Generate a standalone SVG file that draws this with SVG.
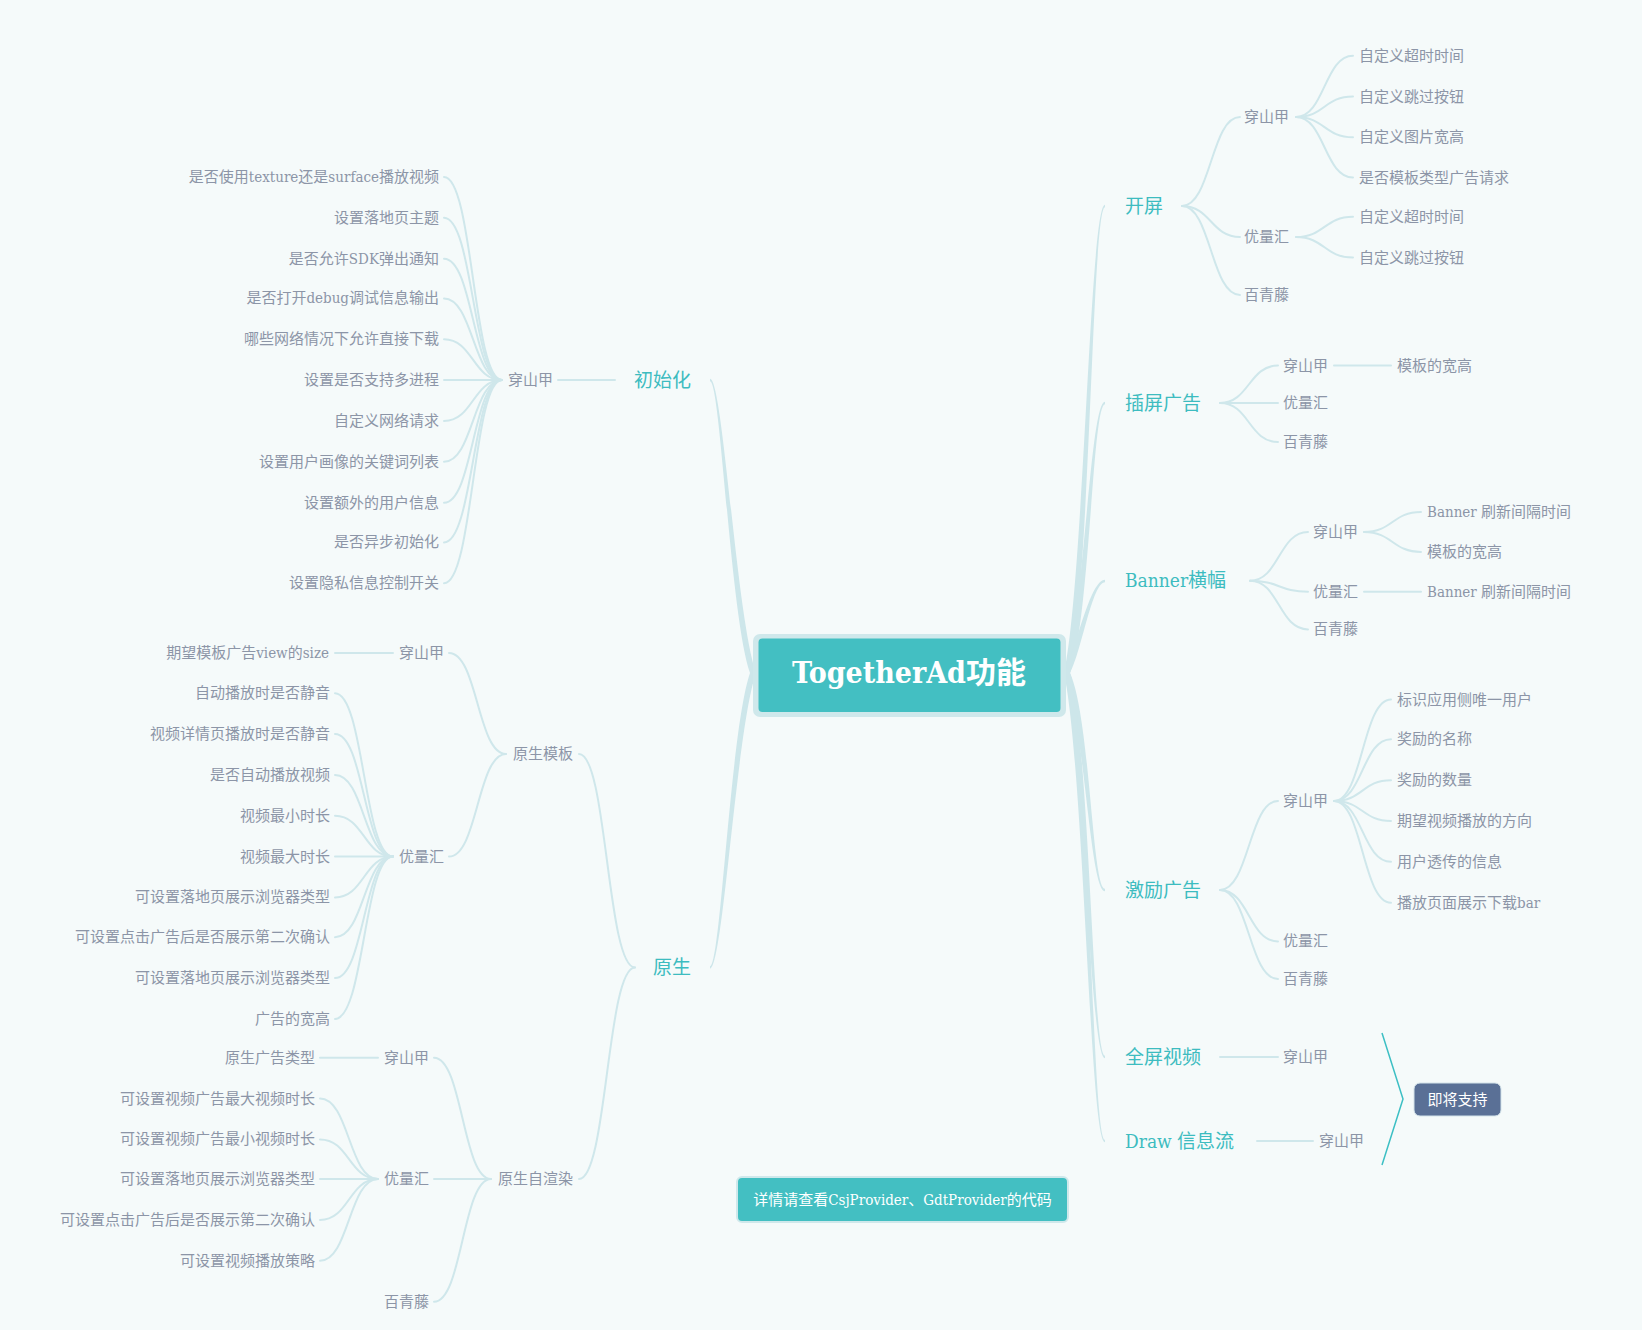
<svg xmlns="http://www.w3.org/2000/svg" width="1642" height="1330" viewBox="0 0 1642 1330">
<style>
text{font-family:"DejaVu Serif Condensed","DejaVu Serif","Noto Sans CJK SC",serif}
.m{font-size:19px;fill:#3dbcc0}
.s{font-size:15px;fill:#8c95a7}
.e{text-anchor:end}
.br{fill:#cde6ea}
.c{fill:none;stroke:#cfe7eb;stroke-width:2;stroke-linecap:round}
</style>
<rect width="1642" height="1330" fill="#f5fafa"/>
<g id="connectors">
<path class="br" d="M1064,673 C1084,579.6 1089.8,204.8 1105,204.8 L1105,207.2 C1092.2,207.2 1090,579.6 1070,673 Z"/>
<path class="br" d="M1064,673 C1084,619 1089.8,401.8 1105,401.8 L1105,404.2 C1092.2,404.2 1090,619 1070,673 Z"/>
<path class="br" d="M1064,673 C1076,650 1089.8,579.8 1105,579.8 L1105,582.2 C1092.2,582.2 1082,650 1070,673 Z"/>
<path class="br" d="M1070,673 C1090,716.4 1092.2,888.8 1105,888.8 L1105,891.2 C1089.8,891.2 1084,716.4 1064,673 Z"/>
<path class="br" d="M1070,673 C1090,749.8 1092.2,1055.8 1105,1055.8 L1105,1058.2 C1089.8,1058.2 1084,749.8 1064,673 Z"/>
<path class="br" d="M1070,673 C1090,766.6 1092.2,1139.8 1105,1139.8 L1105,1142.2 C1089.8,1142.2 1084,766.6 1064,673 Z"/>
<path class="br" d="M750,673 C730,614.4 720.8,381.2 710,381.2 L710,378.8 C723.2,378.8 736,614.4 756,673 Z"/>
<path class="br" d="M756,673 C736,731.9 723.2,968.7 710,968.7 L710,966.3 C720.8,966.3 730,731.9 750,673 Z"/>
<!-- 开屏 -->
<path class="c" d="M1182,206 C1211,206 1211,117 1240,117"/>
<path class="c" d="M1182,206 C1211,206 1211,237 1240,237"/>
<path class="c" d="M1182,206 C1211,206 1211,295 1240,295"/>
<path class="c" d="M1296,117 C1324.5,117 1324.5,55.7 1353,55.7"/>
<path class="c" d="M1296,117 C1324.5,117 1324.5,96.5 1353,96.5"/>
<path class="c" d="M1296,117 C1324.5,117 1324.5,137.3 1353,137.3"/>
<path class="c" d="M1296,117 C1324.5,117 1324.5,177.6 1353,177.6"/>
<path class="c" d="M1296,237 C1324.5,237 1324.5,216.8 1353,216.8"/>
<path class="c" d="M1296,237 C1324.5,237 1324.5,257.6 1353,257.6"/>
<!-- 插屏广告 -->
<path class="c" d="M1220,403 C1249,403 1249,365.5 1278,365.5"/>
<path class="c" d="M1220,403 L1278,403"/>
<path class="c" d="M1220,403 C1249,403 1249,442 1278,442"/>
<path class="c" d="M1334,365.5 L1391,365.5"/>
<!-- Banner -->
<path class="c" d="M1250,580.7 C1279,580.7 1279,532 1308,532"/>
<path class="c" d="M1250,580.7 C1279,580.7 1279,591.7 1308,591.7"/>
<path class="c" d="M1250,580.7 C1279,580.7 1279,629.4 1308,629.4"/>
<path class="c" d="M1364,532 C1392.5,532 1392.5,512 1421,512"/>
<path class="c" d="M1364,532 C1392.5,532 1392.5,551.9 1421,551.9"/>
<path class="c" d="M1364,591.7 L1421,591.7"/>
<!-- 激励广告 -->
<path class="c" d="M1220,890 C1249,890 1249,801 1278,801"/>
<path class="c" d="M1220,890 C1249,890 1249,941.4 1278,941.4"/>
<path class="c" d="M1220,890 C1249,890 1249,979 1278,979"/>
<path class="c" d="M1334,801 C1362.5,801 1362.5,699.5 1391,699.5"/>
<path class="c" d="M1334,801 C1362.5,801 1362.5,739.3 1391,739.3"/>
<path class="c" d="M1334,801 C1362.5,801 1362.5,780.2 1391,780.2"/>
<path class="c" d="M1334,801 C1362.5,801 1362.5,821 1391,821"/>
<path class="c" d="M1334,801 C1362.5,801 1362.5,861.8 1391,861.8"/>
<path class="c" d="M1334,801 C1362.5,801 1362.5,902.7 1391,902.7"/>
<!-- 全屏视频 / Draw -->
<path class="c" d="M1220,1057 L1278,1057"/>
<path class="c" d="M1257,1141 L1313,1141"/>
<!-- 初始化 -->
<path class="c" d="M615,380 L558,380"/>
<path class="c" d="M502,380 C473,380 473,177 444,177"/>
<path class="c" d="M502,380 C473,380 473,217.8 444,217.8"/>
<path class="c" d="M502,380 C473,380 473,258.7 444,258.7"/>
<path class="c" d="M502,380 C473,380 473,298.4 444,298.4"/>
<path class="c" d="M502,380 C473,380 473,339.3 444,339.3"/>
<path class="c" d="M502,380 L444,380"/>
<path class="c" d="M502,380 C473,380 473,421 444,421"/>
<path class="c" d="M502,380 C473,380 473,461.8 444,461.8"/>
<path class="c" d="M502,380 C473,380 473,502.7 444,502.7"/>
<path class="c" d="M502,380 C473,380 473,542.4 444,542.4"/>
<path class="c" d="M502,380 C473,380 473,583.3 444,583.3"/>
<!-- 原生 -->
<path class="c" d="M635,967.5 C607,967.5 607,754 579,754"/>
<path class="c" d="M635,967.5 C607,967.5 607,1179 579,1179"/>
<path class="c" d="M506,754 C477.5,754 477.5,653 449,653"/>
<path class="c" d="M506,754 C477.5,754 477.5,856.6 449,856.6"/>
<path class="c" d="M393,653 L335,653"/>
<path class="c" d="M393,856.6 C364,856.6 364,693.2 335,693.2"/>
<path class="c" d="M393,856.6 C364,856.6 364,734.1 335,734.1"/>
<path class="c" d="M393,856.6 C364,856.6 364,775 335,775"/>
<path class="c" d="M393,856.6 C364,856.6 364,815.8 335,815.8"/>
<path class="c" d="M393,856.6 L335,856.6"/>
<path class="c" d="M393,856.6 C364,856.6 364,897.4 335,897.4"/>
<path class="c" d="M393,856.6 C364,856.6 364,937.2 335,937.2"/>
<path class="c" d="M393,856.6 C364,856.6 364,978.1 335,978.1"/>
<path class="c" d="M393,856.6 C364,856.6 364,1018.9 335,1018.9"/>
<path class="c" d="M491,1179 C462.5,1179 462.5,1057.7 434,1057.7"/>
<path class="c" d="M491,1179 L434,1179"/>
<path class="c" d="M491,1179 C462.5,1179 462.5,1301.7 434,1301.7"/>
<path class="c" d="M378,1057.7 L320,1057.7"/>
<path class="c" d="M378,1179 C349,1179 349,1098.5 320,1098.5"/>
<path class="c" d="M378,1179 C349,1179 349,1139.4 320,1139.4"/>
<path class="c" d="M378,1179 L320,1179"/>
<path class="c" d="M378,1179 C349,1179 349,1220 320,1220"/>
<path class="c" d="M378,1179 C349,1179 349,1260.8 320,1260.8"/>
<!-- bracket -->
<polyline points="1382,1033 1403,1099 1382,1165" fill="none" stroke="#3cbfc4" stroke-width="1.5"/>
</g>

<g id="root">
<rect x="753" y="634" width="313" height="83" rx="7" fill="#cfe8eb"/>
<rect x="758.5" y="638.5" width="302" height="73.5" rx="4" fill="#43bfc2"/>
<text x="909" y="683" text-anchor="middle" style="font-size:30px;font-weight:bold;fill:#ffffff">TogetherAd功能</text>
</g>

<g id="n-kaiping"><text class="m" x="1125" y="212.5">开屏</text></g>
<g id="n-kaiping-csj"><text class="s" x="1244" y="122">穿山甲</text></g>
<g id="n-kaiping-csj-1"><text class="s" x="1359" y="60.7">自定义超时时间</text></g>
<g id="n-kaiping-csj-2"><text class="s" x="1359" y="101.5">自定义跳过按钮</text></g>
<g id="n-kaiping-csj-3"><text class="s" x="1359" y="142.3">自定义图片宽高</text></g>
<g id="n-kaiping-csj-4"><text class="s" x="1359" y="182.6">是否模板类型广告请求</text></g>
<g id="n-kaiping-ylh"><text class="s" x="1244" y="242">优量汇</text></g>
<g id="n-kaiping-ylh-1"><text class="s" x="1359" y="221.8">自定义超时时间</text></g>
<g id="n-kaiping-ylh-2"><text class="s" x="1359" y="262.6">自定义跳过按钮</text></g>
<g id="n-kaiping-bqt"><text class="s" x="1244" y="300">百青藤</text></g>

<g id="n-chaping"><text class="m" x="1125" y="409.5">插屏广告</text></g>
<g id="n-chaping-csj"><text class="s" x="1283" y="370.5">穿山甲</text></g>
<g id="n-chaping-csj-1"><text class="s" x="1397" y="370.5">模板的宽高</text></g>
<g id="n-chaping-ylh"><text class="s" x="1283" y="408">优量汇</text></g>
<g id="n-chaping-bqt"><text class="s" x="1283" y="447">百青藤</text></g>

<g id="n-banner"><text class="m" x="1125" y="587.2">Banner横幅</text></g>
<g id="n-banner-csj"><text class="s" x="1313" y="537">穿山甲</text></g>
<g id="n-banner-csj-1"><text class="s" x="1427" y="517">Banner 刷新间隔时间</text></g>
<g id="n-banner-csj-2"><text class="s" x="1427" y="556.9">模板的宽高</text></g>
<g id="n-banner-ylh"><text class="s" x="1313" y="596.7">优量汇</text></g>
<g id="n-banner-ylh-1"><text class="s" x="1427" y="596.7">Banner 刷新间隔时间</text></g>
<g id="n-banner-bqt"><text class="s" x="1313" y="634.4">百青藤</text></g>

<g id="n-jili"><text class="m" x="1125" y="896.5">激励广告</text></g>
<g id="n-jili-csj"><text class="s" x="1283" y="806">穿山甲</text></g>
<g id="n-jili-csj-1"><text class="s" x="1397" y="704.5">标识应用侧唯一用户</text></g>
<g id="n-jili-csj-2"><text class="s" x="1397" y="744.3">奖励的名称</text></g>
<g id="n-jili-csj-3"><text class="s" x="1397" y="785.2">奖励的数量</text></g>
<g id="n-jili-csj-4"><text class="s" x="1397" y="826">期望视频播放的方向</text></g>
<g id="n-jili-csj-5"><text class="s" x="1397" y="866.8">用户透传的信息</text></g>
<g id="n-jili-csj-6"><text class="s" x="1397" y="907.7">播放页面展示下载bar</text></g>
<g id="n-jili-ylh"><text class="s" x="1283" y="946.4">优量汇</text></g>
<g id="n-jili-bqt"><text class="s" x="1283" y="984">百青藤</text></g>

<g id="n-quanping"><text class="m" x="1125" y="1063.5">全屏视频</text></g>
<g id="n-quanping-csj"><text class="s" x="1283" y="1062">穿山甲</text></g>
<g id="n-draw"><text class="m" x="1125" y="1147.5">Draw 信息流</text></g>
<g id="n-draw-csj"><text class="s" x="1319" y="1146">穿山甲</text></g>

<g id="n-soon">
<rect x="1414" y="1083" width="87" height="33" rx="6" fill="#5a7096" stroke="#d3e3ea" stroke-width="1"/>
<text x="1457.5" y="1104.5" text-anchor="middle" style="font-size:15px;fill:#ffffff">即将支持</text>
</g>

<g id="n-note">
<rect x="737" y="1177" width="331" height="45" rx="5" fill="#43bfc2" stroke="#cfe8eb" stroke-width="2"/>
<text x="902.5" y="1205" text-anchor="middle" style="font-size:15px;fill:#ffffff">详情请查看CsjProvider、GdtProvider的代码</text>
</g>

<g id="n-init"><text class="m e" x="691" y="386.5">初始化</text></g>
<g id="n-init-csj"><text class="s e" x="553" y="385">穿山甲</text></g>
<g id="n-init-csj-1"><text class="s e" x="439" y="182">是否使用texture还是surface播放视频</text></g>
<g id="n-init-csj-2"><text class="s e" x="439" y="222.8">设置落地页主题</text></g>
<g id="n-init-csj-3"><text class="s e" x="439" y="263.7">是否允许SDK弹出通知</text></g>
<g id="n-init-csj-4"><text class="s e" x="439" y="303.4">是否打开debug调试信息输出</text></g>
<g id="n-init-csj-5"><text class="s e" x="439" y="344.3">哪些网络情况下允许直接下载</text></g>
<g id="n-init-csj-6"><text class="s e" x="439" y="385.1">设置是否支持多进程</text></g>
<g id="n-init-csj-7"><text class="s e" x="439" y="426">自定义网络请求</text></g>
<g id="n-init-csj-8"><text class="s e" x="439" y="466.8">设置用户画像的关键词列表</text></g>
<g id="n-init-csj-9"><text class="s e" x="439" y="507.7">设置额外的用户信息</text></g>
<g id="n-init-csj-10"><text class="s e" x="439" y="547.4">是否异步初始化</text></g>
<g id="n-init-csj-11"><text class="s e" x="439" y="588.3">设置隐私信息控制开关</text></g>

<g id="n-native"><text class="m e" x="691" y="974">原生</text></g>
<g id="n-native-tpl"><text class="s e" x="573" y="759">原生模板</text></g>
<g id="n-native-tpl-csj"><text class="s e" x="444" y="658">穿山甲</text></g>
<g id="n-native-tpl-csj-1"><text class="s e" x="329" y="658">期望模板广告view的size</text></g>
<g id="n-native-tpl-ylh"><text class="s e" x="444" y="861.6">优量汇</text></g>
<g id="n-native-tpl-ylh-1"><text class="s e" x="330" y="698.2">自动播放时是否静音</text></g>
<g id="n-native-tpl-ylh-2"><text class="s e" x="330" y="739.1">视频详情页播放时是否静音</text></g>
<g id="n-native-tpl-ylh-3"><text class="s e" x="330" y="780">是否自动播放视频</text></g>
<g id="n-native-tpl-ylh-4"><text class="s e" x="330" y="820.8">视频最小时长</text></g>
<g id="n-native-tpl-ylh-5"><text class="s e" x="330" y="861.6">视频最大时长</text></g>
<g id="n-native-tpl-ylh-6"><text class="s e" x="330" y="902.4">可设置落地页展示浏览器类型</text></g>
<g id="n-native-tpl-ylh-7"><text class="s e" x="330" y="942.2">可设置点击广告后是否展示第二次确认</text></g>
<g id="n-native-tpl-ylh-8"><text class="s e" x="330" y="983.1">可设置落地页展示浏览器类型</text></g>
<g id="n-native-tpl-ylh-9"><text class="s e" x="330" y="1023.9">广告的宽高</text></g>

<g id="n-native-self"><text class="s e" x="573" y="1184">原生自渲染</text></g>
<g id="n-native-self-csj"><text class="s e" x="429" y="1062.7">穿山甲</text></g>
<g id="n-native-self-csj-1"><text class="s e" x="315" y="1062.7">原生广告类型</text></g>
<g id="n-native-self-ylh"><text class="s e" x="429" y="1184">优量汇</text></g>
<g id="n-native-self-ylh-1"><text class="s e" x="315" y="1103.5">可设置视频广告最大视频时长</text></g>
<g id="n-native-self-ylh-2"><text class="s e" x="315" y="1144.4">可设置视频广告最小视频时长</text></g>
<g id="n-native-self-ylh-3"><text class="s e" x="315" y="1184.1">可设置落地页展示浏览器类型</text></g>
<g id="n-native-self-ylh-4"><text class="s e" x="315" y="1225">可设置点击广告后是否展示第二次确认</text></g>
<g id="n-native-self-ylh-5"><text class="s e" x="315" y="1265.8">可设置视频播放策略</text></g>
<g id="n-native-self-bqt"><text class="s e" x="429" y="1306.7">百青藤</text></g>
</svg>
